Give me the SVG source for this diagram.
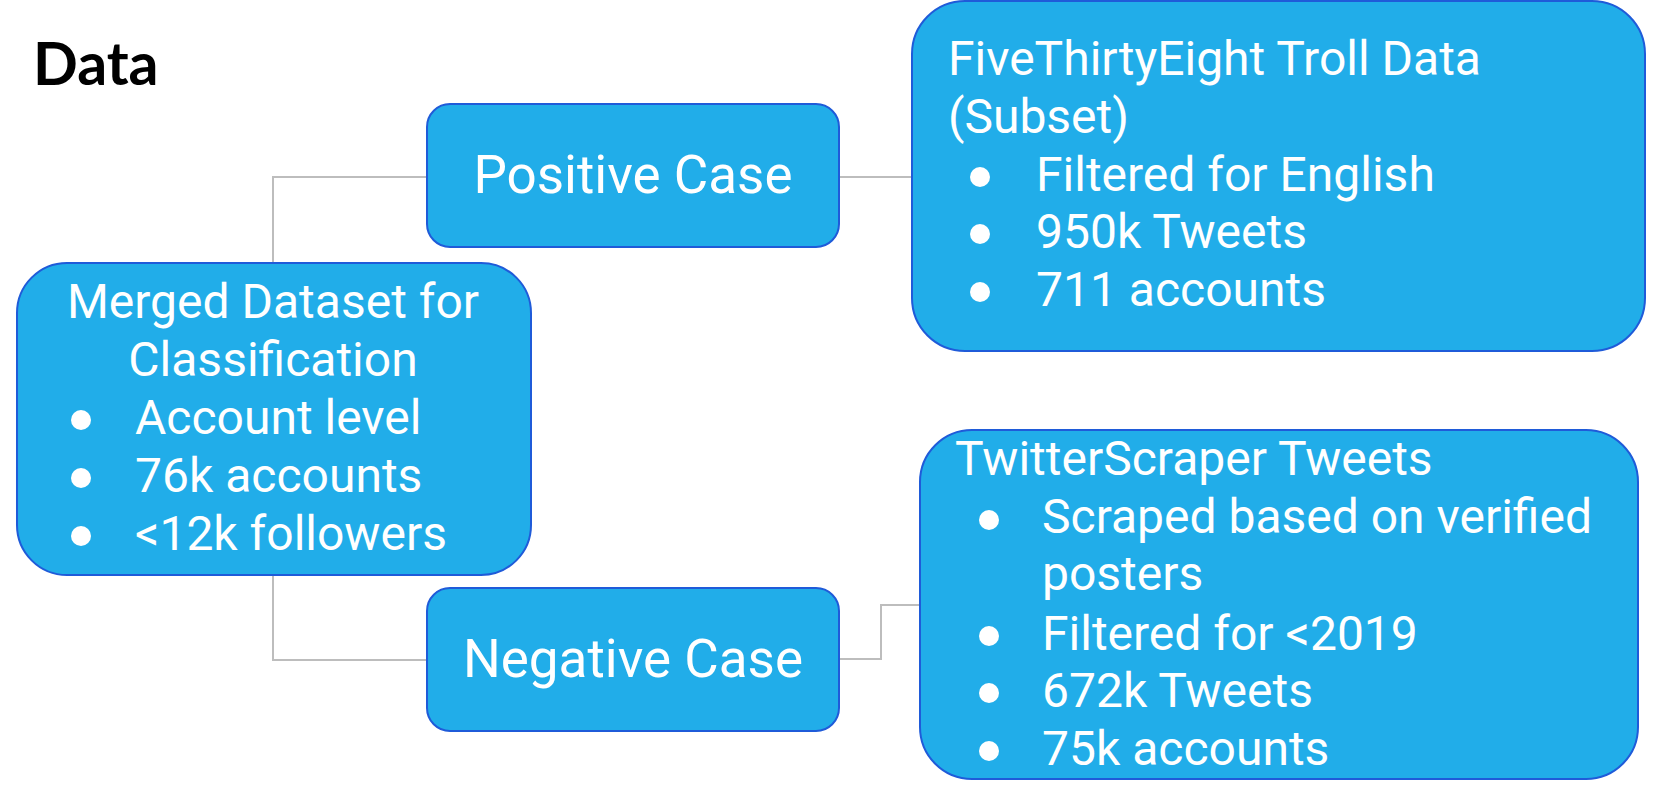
<svg xmlns="http://www.w3.org/2000/svg" width="1654" height="790" viewBox="0 0 1654 790">
<style>
.box{fill:#21ADE9;stroke:#1F5BD9;stroke-width:2}
.t{font-family:Roboto,"Liberation Sans",sans-serif;fill:#fff;font-size:48px}
.big{font-size:53px}
.conn{fill:none;stroke:#BDBDBD;stroke-width:2}
.b{fill:#fff}
</style>
<rect width="1654" height="790" fill="#fff"/>
<text x="33" y="85" font-family="Lato,'Liberation Sans',sans-serif" font-weight="bold" font-size="59" fill="#000">Data</text>
<g id="connectors">
<polyline class="conn" points="273,263 273,177 427,177"/>
<polyline class="conn" points="273,575 273,660 427,660"/>
<line class="conn" x1="839" y1="177" x2="913" y2="177"/>
<polyline class="conn" points="839,659 881,659 881,605 921,605"/>
</g>
<g id="merged">
<rect class="box" x="17" y="263" width="514" height="312" rx="50"/>
<text class="t" x="273" y="318" text-anchor="middle">Merged Dataset for</text>
<text class="t" x="273" y="376" text-anchor="middle">Classification</text>
<circle class="b" cx="81" cy="420" r="10"/><text class="t" x="135" y="434">Account level</text>
<circle class="b" cx="81" cy="478" r="10"/><text class="t" x="135" y="492">76k accounts</text>
<circle class="b" cx="81" cy="536" r="10"/><text class="t" x="135" y="550">&lt;12k followers</text>
</g>
<g id="positive">
<rect class="box" x="427" y="104" width="412" height="143" rx="23"/>
<text class="t big" x="633" y="193" text-anchor="middle">Positive Case</text>
</g>
<g id="negative">
<rect class="box" x="427" y="588" width="412" height="143" rx="23"/>
<text class="t big" x="633" y="677" text-anchor="middle">Negative Case</text>
</g>
<g id="fivethirtyeight">
<rect class="box" x="912" y="1" width="733" height="350" rx="53"/>
<text class="t" x="948" y="75">FiveThirtyEight Troll Data</text>
<text class="t" x="948" y="133">(Subset)</text>
<circle class="b" cx="980" cy="177" r="10"/><text class="t" x="1036" y="191">Filtered for English</text>
<circle class="b" cx="980" cy="234" r="10"/><text class="t" x="1036" y="248">950k Tweets</text>
<circle class="b" cx="980" cy="292" r="10"/><text class="t" x="1036" y="306">711 accounts</text>
</g>
<g id="twitterscraper">
<rect class="box" x="920" y="430" width="718" height="349" rx="52"/>
<text class="t" x="955" y="475">TwitterScraper Tweets</text>
<circle class="b" cx="989" cy="520" r="10"/><text class="t" x="1042" y="533">Scraped based on verified</text>
<text class="t" x="1042" y="590">posters</text>
<circle class="b" cx="989" cy="636" r="10"/><text class="t" x="1042" y="650">Filtered for &lt;2019</text>
<circle class="b" cx="989" cy="693" r="10"/><text class="t" x="1042" y="707">672k Tweets</text>
<circle class="b" cx="989" cy="751" r="10"/><text class="t" x="1042" y="765">75k accounts</text>
</g>
</svg>
